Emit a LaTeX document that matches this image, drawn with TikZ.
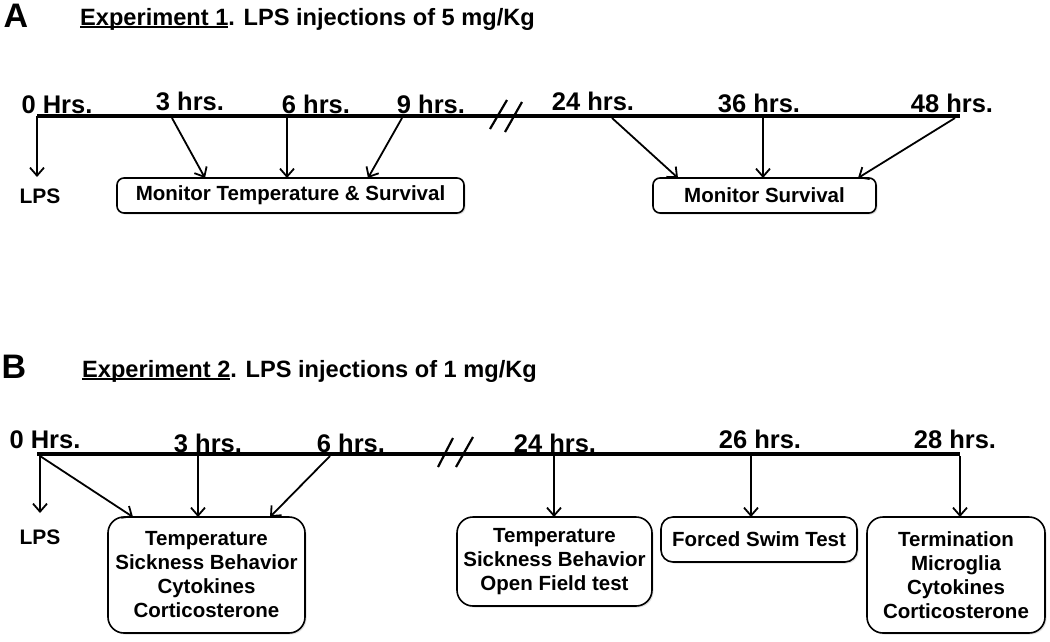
\documentclass[tikz,border=0pt]{standalone}
\usepackage{fontspec}
\setmainfont{Liberation Sans}
\usetikzlibrary{arrows.meta,shadows}
\newcommand{\undl}[1]{\setbox0\hbox{#1}\rlap{\rule[-3pt]{\wd0}{1.8pt}}\box0}

\begin{document}
\begin{tikzpicture}[x=1pt,y=-1pt,
    >={Straight Barb[length=8pt,width=14pt]},
    tline/.style={line width=4pt},
    arr/.style={->,line width=1.8pt},
    brk/.style={line width=2.2pt},
    panel/.style={font=\fontsize{34}{36}\selectfont\bfseries,inner sep=0pt},
    ttl/.style={anchor=base west,font=\fontsize{23.6}{26}\selectfont\bfseries,inner sep=0pt},
    hrs/.style={anchor=base,font=\fontsize{25.5}{28}\selectfont\bfseries,inner sep=0pt},
    lps/.style={font=\fontsize{21}{24}\selectfont\bfseries,inner sep=0pt},
    boxa/.style={draw,line width=1.6pt,fill=white,rounded corners=7pt,inner sep=0pt,
      align=center,font=\fontsize{20.5}{24}\selectfont\bfseries,
      drop shadow={shadow xshift=1.5pt,shadow yshift=-1.5pt,opacity=0.25}},
    boxb/.style={boxa,rounded corners=16pt}]
  \fill[white] (0,0) rectangle (1050,641);
  \useasboundingbox (0,0) rectangle (1050,641);

  \node[panel] (pa) at (16,16) {A};
  \node[ttl] (tta) at (80,25) {\undl{Experiment 1}. LPS injections of 5 mg/Kg};

  \coordinate (a0) at (37,116);
  \coordinate (aend) at (960,116);
  \draw[tline] (a0) -- (aend);
  \draw[brk] (490,129) -- (507,100);
  \draw[brk] (505,132) -- (522,102);

  \node[hrs] (ha0) at (57,113) {0 Hrs.};
  \node[hrs] (ha3) at (190,110) {3 hrs.};
  \node[hrs] (ha6) at (316,113) {6 hrs.};
  \node[hrs] (ha9) at (431,113) {9 hrs.};
  \node[hrs] (ha24) at (593,110) {24 hrs.};
  \node[hrs] (ha36) at (759,112) {36 hrs.};
  \node[hrs] (ha48) at (952,112) {48 hrs.};

  \coordinate (a3) at (172,118);
  \coordinate (a6) at (287,118);
  \coordinate (a9) at (402,118);
  \coordinate (a24) at (612,118);
  \coordinate (a36) at (763,118);
  \coordinate (a48) at (955,118);

  \node[lps] (lpsa) at (40,196) {LPS};
  \node[boxa,minimum width=347pt,minimum height=35pt] (mts) at (290.5,195.5) {Monitor Temperature \& Survival};
  \node[boxa,minimum width=223pt,minimum height=35pt] (ms) at (764.5,195.5) {Monitor Survival};

  \coordinate (lpsae) at (37,177);
  \coordinate (a3e) at (205,178);
  \coordinate (a6e) at (287,178);
  \coordinate (a9e) at (368,178);
  \coordinate (a24e) at (678,178);
  \coordinate (a36e) at (763,178);
  \coordinate (a48e) at (858,178);

  \draw[arr] (a0) -- (lpsae);
  \draw[arr] (a3) -- (a3e);
  \draw[arr] (a6) -- (a6e);
  \draw[arr] (a9) -- (a9e);
  \draw[arr] (a24) -- (a24e);
  \draw[arr] (a36) -- (a36e);
  \draw[arr] (a48) -- (a48e);

  \node[panel] (pb) at (14,367) {B};
  \node[ttl] (ttb) at (82,377) {\undl{Experiment 2}. LPS injections of 1 mg/Kg};

  \coordinate (b0) at (37,454);
  \coordinate (bend) at (960,454);
  \draw[tline] (b0) -- (bend);
  \draw[brk] (438,467) -- (453,438);
  \draw[brk] (456,467) -- (473,437);

  \node[hrs] (hb0) at (45,448) {0 Hrs.};
  \node[hrs] (hb3) at (208,452) {3 hrs.};
  \node[hrs] (hb6) at (351,452) {6 hrs.};
  \node[hrs] (hb24) at (555,452) {24 hrs.};
  \node[hrs] (hb26) at (760,448) {26 hrs.};
  \node[hrs] (hb28) at (955,448) {28 hrs.};

  \coordinate (b0s) at (40,456);
  \coordinate (b3) at (198,456);
  \coordinate (b6) at (330,456);
  \coordinate (b24) at (554,456);
  \coordinate (b26) at (751,456);
  \coordinate (b28) at (960,456);

  \node[lps] (lpsb) at (40,537) {LPS};
  \node[boxb,minimum width=197pt,minimum height=116pt] (acute) at (206.5,575) {Temperature\\Sickness Behavior\\Cytokines\\Corticosterone};
  \node[boxb,minimum width=195pt,minimum height=89pt] (day1) at (554.5,561.5) {Temperature\\Sickness Behavior\\Open Field test};
  \node[boxa,rounded corners=12pt,minimum width=196pt,minimum height=45pt] (fst) at (759,539.5) {Forced Swim Test};
  \node[boxb,minimum width=178pt,minimum height=116pt] (term) at (956,575) {Termination\\Microglia\\Cytokines\\Corticosterone};

  \coordinate (lpsbe) at (40,513);
  \coordinate (b0e) at (133,517);
  \coordinate (b3e) at (198,517);
  \coordinate (b6e) at (270,517);
  \coordinate (b24e) at (554,517);
  \coordinate (b26e) at (751,517);
  \coordinate (b28e) at (960,517);

  \draw[arr] (b0s) -- (lpsbe);
  \draw[arr] (b0s) -- (b0e);
  \draw[arr] (b3) -- (b3e);
  \draw[arr] (b6) -- (b6e);
  \draw[arr] (b24) -- (b24e);
  \draw[arr] (b26) -- (b26e);
  \draw[arr] (b28) -- (b28e);
\end{tikzpicture}
\end{document}
